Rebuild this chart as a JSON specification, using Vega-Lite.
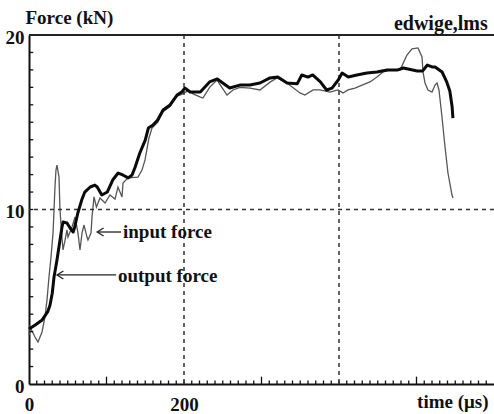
{
  "$schema": "https://vega.github.io/schema/vega-lite/v6.json",
  "width": 465,
  "height": 349,
  "autosize": {"type": "none"},
  "padding": {"left": 29, "top": 35, "right": 0, "bottom": 30},
  "background": "white",
  "config": {
    "view": {"stroke": null},
    "font": "Liberation Serif",
    "axis": {"grid": false, "ticks": false, "labelOverlap": false, "labelBound": false, "labelFlush": false,
      "domainColor": "#111", "domainWidth": 2,
      "labelFont": "Liberation Serif", "labelFontSize": 19, "labelFontWeight": "bold", "labelColor": "#111",
      "titleFont": "Liberation Serif", "titleFontSize": 19, "titleFontWeight": "bold", "titleColor": "#111"}
  },
  "datasets": {
    "curves": [
      {"s":"in","t":0,"f":2.81},{"s":"in","t":1.3,"f":3.27},{"s":"in","t":7.7,"f":2.69},{"s":"in","t":11.6,"f":2.41},{"s":"in","t":16.8,"f":2.98},{"s":"in","t":20.6,"f":3.84},{"s":"in","t":23.2,"f":4.81},{"s":"in","t":25.8,"f":6.13},{"s":"in","t":28.4,"f":7.28},{"s":"in","t":31,"f":8.65},{"s":"in","t":32.3,"f":9.97},{"s":"in","t":33.5,"f":11.29},{"s":"in","t":34.8,"f":12.26},{"s":"in","t":36.1,"f":12.55},{"s":"in","t":38.7,"f":11.86},{"s":"in","t":40,"f":9.97},{"s":"in","t":42.6,"f":8.37},{"s":"in","t":43.9,"f":7.68},{"s":"in","t":46.5,"f":8.25},{"s":"in","t":49,"f":8.83},{"s":"in","t":50.3,"f":8.42},{"s":"in","t":55.5,"f":9.0},{"s":"in","t":59.4,"f":9.57},{"s":"in","t":63.2,"f":8.65},{"s":"in","t":65.8,"f":7.68},{"s":"in","t":68.4,"f":8.65},{"s":"in","t":71,"f":9.11},{"s":"in","t":74.8,"f":8.42},{"s":"in","t":76.1,"f":8.25},{"s":"in","t":80,"f":8.65},{"s":"in","t":81.3,"f":9.57},{"s":"in","t":83.9,"f":10.72},{"s":"in","t":87,"f":10.14},{"s":"in","t":91.6,"f":10.66},{"s":"in","t":98.1,"f":10.37},{"s":"in","t":104.5,"f":10.83},{"s":"in","t":111,"f":10.6},{"s":"in","t":114.8,"f":11.29},{"s":"in","t":120,"f":10.72},{"s":"in","t":121.3,"f":11.52},{"s":"in","t":127.7,"f":11.81},{"s":"in","t":140.6,"f":11.86},{"s":"in","t":145.8,"f":12.26},{"s":"in","t":149.7,"f":12.84},{"s":"in","t":154.8,"f":14.1},{"s":"in","t":158.7,"f":14.67},{"s":"in","t":166,"f":15.0},{"s":"in","t":173,"f":15.6},{"s":"in","t":182,"f":15.9},{"s":"in","t":191,"f":16.5},{"s":"in","t":197,"f":16.6},{"s":"in","t":205,"f":16.8},{"s":"in","t":213,"f":16.6},{"s":"in","t":220.6,"f":16.45},{"s":"in","t":224.5,"f":16.39},{"s":"in","t":233,"f":17.0},{"s":"in","t":242.6,"f":17.42},{"s":"in","t":255.5,"f":16.56},{"s":"in","t":263.2,"f":16.85},{"s":"in","t":272,"f":17.0},{"s":"in","t":285.2,"f":16.96},{"s":"in","t":298.1,"f":16.85},{"s":"in","t":311,"f":17.3},{"s":"in","t":320,"f":17.54},{"s":"in","t":332.9,"f":17.25},{"s":"in","t":349.7,"f":16.68},{"s":"in","t":355.9,"f":16.56},{"s":"in","t":366.5,"f":16.85},{"s":"in","t":375.5,"f":16.85},{"s":"in","t":388.4,"f":16.73},{"s":"in","t":398.7,"f":16.85},{"s":"in","t":405.2,"f":16.68},{"s":"in","t":411.6,"f":16.85},{"s":"in","t":420.6,"f":16.96},{"s":"in","t":429.7,"f":17.13},{"s":"in","t":440,"f":17.31},{"s":"in","t":449,"f":17.59},{"s":"in","t":456.8,"f":17.88},{"s":"in","t":465.8,"f":17.99},{"s":"in","t":478.7,"f":17.99},{"s":"in","t":487.7,"f":18.85},{"s":"in","t":494.2,"f":19.2},{"s":"in","t":501.9,"f":19.26},{"s":"in","t":507.1,"f":18.74},{"s":"in","t":508.4,"f":17.88},{"s":"in","t":511,"f":17.25},{"s":"in","t":514.8,"f":16.85},{"s":"in","t":520,"f":16.73},{"s":"in","t":523.9,"f":17.13},{"s":"in","t":526.5,"f":17.25},{"s":"in","t":529,"f":16.85},{"s":"in","t":532.9,"f":15.3},{"s":"in","t":536.8,"f":13.58},{"s":"in","t":540.6,"f":12.09},{"s":"in","t":545.8,"f":10.83},{"s":"in","t":547.1,"f":10.66},
      {"s":"out","t":0,"f":3.15},{"s":"out","t":8,"f":3.38},{"s":"out","t":17,"f":3.67},{"s":"out","t":24,"f":4.13},{"s":"out","t":27,"f":4.5},{"s":"out","t":30,"f":5.2},{"s":"out","t":32.3,"f":6.13},{"s":"out","t":36.1,"f":7.11},{"s":"out","t":40,"f":8.25},{"s":"out","t":42.6,"f":9.0},{"s":"out","t":44,"f":9.28},{"s":"out","t":49,"f":9.23},{"s":"out","t":53,"f":8.94},{"s":"out","t":57,"f":8.71},{"s":"out","t":59,"f":9.0},{"s":"out","t":63,"f":9.8},{"s":"out","t":68,"f":10.54},{"s":"out","t":72,"f":11.0},{"s":"out","t":79,"f":11.29},{"s":"out","t":85,"f":11.4},{"s":"out","t":88,"f":11.29},{"s":"out","t":94,"f":10.83},{"s":"out","t":101,"f":11.0},{"s":"out","t":108,"f":11.69},{"s":"out","t":115,"f":12.09},{"s":"out","t":121,"f":11.98},{"s":"out","t":128,"f":11.81},{"s":"out","t":133,"f":11.98},{"s":"out","t":137,"f":12.44},{"s":"out","t":143,"f":13.24},{"s":"out","t":150,"f":13.98},{"s":"out","t":154,"f":14.67},{"s":"out","t":160,"f":14.84},{"s":"out","t":166,"f":15.13},{"s":"out","t":173,"f":15.7},{"s":"out","t":182,"f":15.99},{"s":"out","t":191,"f":16.56},{"s":"out","t":197,"f":16.73},{"s":"out","t":201,"f":16.96},{"s":"out","t":208,"f":16.73},{"s":"out","t":217,"f":16.73},{"s":"out","t":221,"f":16.73},{"s":"out","t":233,"f":17.31},{"s":"out","t":243,"f":17.48},{"s":"out","t":250,"f":17.25},{"s":"out","t":259,"f":16.96},{"s":"out","t":272,"f":17.13},{"s":"out","t":285,"f":17.13},{"s":"out","t":298,"f":17.25},{"s":"out","t":311,"f":17.54},{"s":"out","t":321,"f":17.59},{"s":"out","t":333,"f":17.25},{"s":"out","t":346,"f":17.2},{"s":"out","t":352,"f":17.71},{"s":"out","t":360,"f":17.59},{"s":"out","t":366,"f":17.71},{"s":"out","t":376,"f":17.31},{"s":"out","t":384,"f":16.85},{"s":"out","t":391,"f":16.96},{"s":"out","t":399,"f":17.42},{"s":"out","t":404,"f":17.82},{"s":"out","t":412,"f":17.59},{"s":"out","t":423,"f":17.71},{"s":"out","t":436,"f":17.82},{"s":"out","t":449,"f":17.88},{"s":"out","t":462,"f":17.99},{"s":"out","t":475,"f":17.99},{"s":"out","t":483,"f":18.11},{"s":"out","t":501,"f":17.94},{"s":"out","t":508,"f":17.94},{"s":"out","t":514,"f":18.28},{"s":"out","t":520,"f":18.17},{"s":"out","t":524,"f":18.17},{"s":"out","t":533,"f":17.88},{"s":"out","t":539,"f":17.31},{"s":"out","t":543,"f":16.79},{"s":"out","t":546,"f":15.87},{"s":"out","t":547,"f":15.24}
    ],
    "xminor": [{"t":10},{"t":20},{"t":30},{"t":40},{"t":50},{"t":60},{"t":70},{"t":80},{"t":90},{"t":110},{"t":120},{"t":130},{"t":140},{"t":150},{"t":160},{"t":170},{"t":180},{"t":190},{"t":200},{"t":210},{"t":220},{"t":230},{"t":240},{"t":250},{"t":260},{"t":270},{"t":280},{"t":290},{"t":310},{"t":320},{"t":330},{"t":340},{"t":350},{"t":360},{"t":370},{"t":380},{"t":390},{"t":400},{"t":410},{"t":420},{"t":430},{"t":440},{"t":450},{"t":460},{"t":470},{"t":480},{"t":490},{"t":510},{"t":520},{"t":530},{"t":540},{"t":550},{"t":560},{"t":570},{"t":580},{"t":590}],
    "xmajor": [{"t":100},{"t":300},{"t":500}],
    "yminor": [{"f":1},{"f":2},{"f":3},{"f":4},{"f":5},{"f":6},{"f":7},{"f":8},{"f":9},{"f":10},{"f":11},{"f":12},{"f":13},{"f":14},{"f":15},{"f":16},{"f":17},{"f":18},{"f":19}]
  },
  "layer": [
    {
      "data": {"name": "curves"},
      "transform": [{"filter": "datum.s === 'in'"}],
      "mark": {"type": "line", "color": "#555", "strokeWidth": 1.3},
      "encoding": {
        "x": {"field": "t", "type": "quantitative", "scale": {"domain": [0, 600], "nice": false, "zero": false},
          "axis": {"title": "time (μs)", "values": [0, 200], "labelPadding": 11,
            "titleAlign": "right", "titleBaseline": "alphabetic", "titleX": 459, "titleY": 23, "titleAnchor": "end"}},
        "y": {"field": "f", "type": "quantitative", "scale": {"domain": [0, 20], "nice": false, "zero": false},
          "axis": {"title": "Force (kN)", "values": [0, 10, 20], "labelPadding": 5, "labelOffset": 2,
            "titleAngle": 0, "titleAlign": "left", "titleBaseline": "alphabetic", "titleX": -4, "titleY": -12}}
      }
    },
    {
      "data": {"name": "xminor"},
      "mark": {"type": "rule", "color": "#111", "strokeWidth": 1.3},
      "encoding": {"x": {"field": "t", "type": "quantitative"}, "y": {"datum": 0, "type": "quantitative"}, "y2": {"datum": 0.2}}
    },
    {
      "data": {"name": "xmajor"},
      "mark": {"type": "rule", "color": "#111", "strokeWidth": 1.3},
      "encoding": {"x": {"field": "t", "type": "quantitative"}, "y": {"datum": 0, "type": "quantitative"}, "y2": {"datum": 0.42}}
    },
    {
      "data": {"name": "yminor"},
      "mark": {"type": "rule", "color": "#111", "strokeWidth": 1.3},
      "encoding": {"y": {"field": "f", "type": "quantitative"}, "x": {"datum": 0, "type": "quantitative"}, "x2": {"datum": 5.5}}
    },
    {
      "data": {"values": [{"t": 200}, {"t": 400}]},
      "mark": {"type": "rule", "color": "#333", "strokeWidth": 1.5, "strokeDash": [4, 4]},
      "encoding": {"x": {"field": "t", "type": "quantitative"}}
    },
    {
      "data": {"values": [{"f": 10}]},
      "mark": {"type": "rule", "color": "#333", "strokeWidth": 1.5, "strokeDash": [4, 4]},
      "encoding": {"y": {"field": "f", "type": "quantitative"}}
    },
    {
      "data": {"values": [{"f": 20}]},
      "mark": {"type": "rule", "color": "#222", "strokeWidth": 2},
      "encoding": {"y": {"field": "f", "type": "quantitative"}}
    },
    {
      "data": {"name": "curves"},
      "transform": [{"filter": "datum.s === 'out'"}],
      "mark": {"type": "line", "color": "#0a0a0a", "strokeWidth": 3, "strokeJoin": "round"},
      "encoding": {
        "x": {"field": "t", "type": "quantitative"},
        "y": {"field": "f", "type": "quantitative"}
      }
    },
    {
      "data": {"values": [{"t": 88, "t2": 118.7, "f": 8.71}, {"t": 36.1, "t2": 112.3, "f": 6.25}]},
      "mark": {"type": "rule", "color": "#222", "strokeWidth": 1.3},
      "encoding": {
        "x": {"field": "t", "type": "quantitative"},
        "x2": {"field": "t2"},
        "y": {"field": "f", "type": "quantitative"}
      }
    },
    {
      "data": {"values": [{"t": 88, "f": 8.71}, {"t": 36.1, "f": 6.25}]},
      "mark": {"type": "point", "shape": "M1.6,-1L0,0L1.6,1", "filled": false, "size": 64, "stroke": "#222", "strokeWidth": 1.3, "opacity": 1},
      "encoding": {
        "x": {"field": "t", "type": "quantitative"},
        "y": {"field": "f", "type": "quantitative"}
      }
    },
    {
      "data": {"values": [{"t": 121.3, "f": 8.71, "label": "input force"}, {"t": 114.8, "f": 6.2, "label": "output force"}]},
      "mark": {"type": "text", "align": "left", "baseline": "middle", "font": "Liberation Serif", "fontSize": 19, "fontWeight": "bold", "color": "#111"},
      "encoding": {
        "x": {"field": "t", "type": "quantitative"},
        "y": {"field": "f", "type": "quantitative"},
        "text": {"field": "label"}
      }
    },
    {
      "data": {"values": [{"t": 592, "f": 20.27, "label": "edwige,lms"}]},
      "mark": {"type": "text", "align": "right", "baseline": "alphabetic", "font": "Liberation Serif", "fontSize": 20, "fontWeight": "bold", "color": "#111"},
      "encoding": {
        "x": {"field": "t", "type": "quantitative"},
        "y": {"field": "f", "type": "quantitative"},
        "text": {"field": "label"}
      }
    }
  ]
}
